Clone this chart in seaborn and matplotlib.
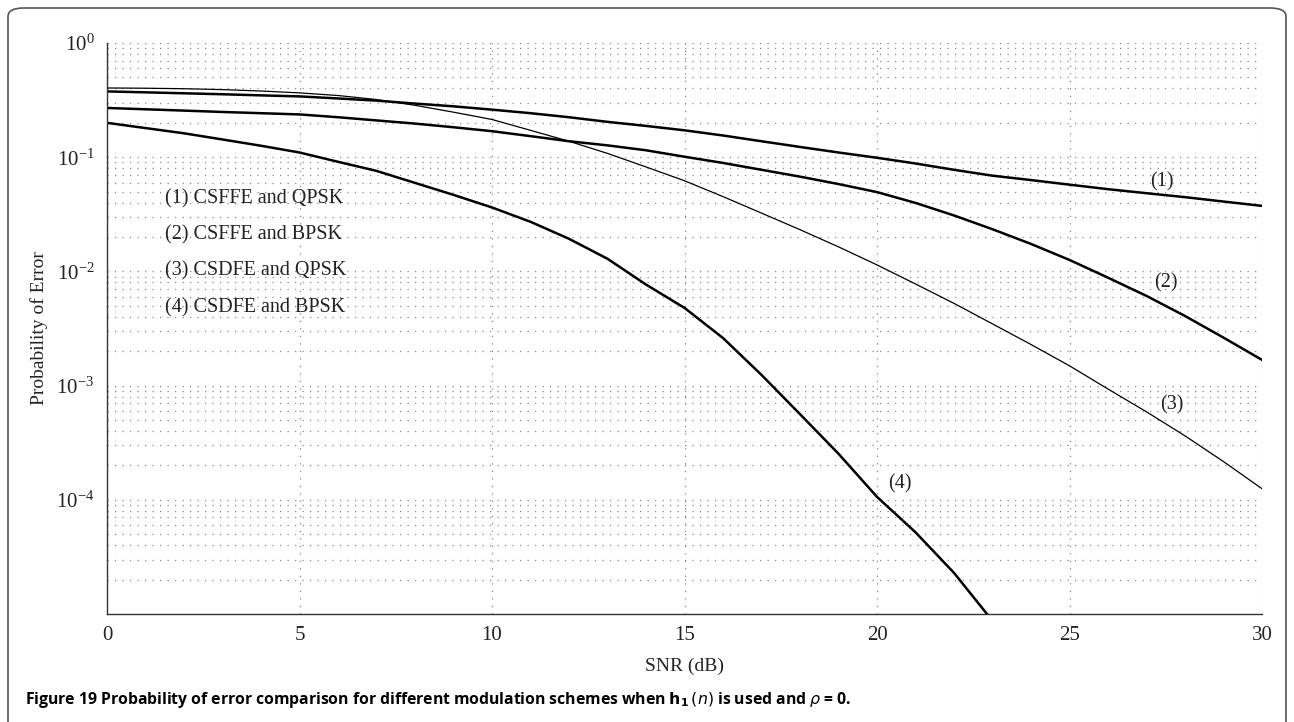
import numpy as np
import pandas as pd
import matplotlib
matplotlib.use("Agg")
import matplotlib.pyplot as plt
import seaborn as sns
from matplotlib.patches import FancyBboxPatch
from matplotlib.ticker import LogLocator, NullFormatter, FixedLocator

# datos (SNR en dB, probabilidad de error)
snr = list(range(0, 31))
pe_csffe_qpsk = [0.377, 0.370, 0.363, 0.356, 0.348, 0.341, 0.327, 0.313, 0.295, 0.279,
                 0.261, 0.243, 0.224, 0.204, 0.188, 0.172, 0.155, 0.138, 0.123, 0.110,
                 0.0989, 0.0881, 0.0776, 0.0689, 0.0631, 0.0575, 0.0525, 0.0484, 0.0447,
                 0.0409, 0.0375]
pe_csffe_bpsk = [0.270, 0.263, 0.256, 0.249, 0.243, 0.237, 0.224, 0.210, 0.197, 0.183,
                 0.169, 0.153, 0.138, 0.127, 0.115, 0.101, 0.0891, 0.0776, 0.0676, 0.0582,
                 0.0495, 0.0398, 0.0309, 0.0234, 0.0174, 0.0126, 0.00881, 0.00610, 0.00407,
                 0.00263, 0.00168]
pe_csdfe_qpsk = [0.404, 0.402, 0.398, 0.391, 0.380, 0.366, 0.347, 0.320, 0.285, 0.248,
                 0.214, 0.172, 0.138, 0.108, 0.0822, 0.0622, 0.0452, 0.0324, 0.0232, 0.0164,
                 0.0114, 0.00776, 0.00525, 0.00347, 0.00229, 0.00149, 0.000933, 0.000589,
                 0.000363, 0.000216, 0.000125]
snr_4 = list(range(0, 24))
pe_csdfe_bpsk = [0.200, 0.180, 0.162, 0.143, 0.126, 0.110, 0.0912, 0.0759, 0.0596, 0.0468,
                 0.0363, 0.0272, 0.0193, 0.0129, 0.00767, 0.00479, 0.00261, 0.00124,
                 0.000562, 0.000253, 0.000106, 5.19e-5, 2.29e-5, 8.7e-6]

leyenda = ["(1) CSFFE and QPSK", "(2) CSFFE and BPSK",
           "(3) CSDFE and QPSK", "(4) CSDFE and BPSK"]
etiquetas = ["(1)", "(2)", "(3)", "(4)"]

sns.set_theme(style="white")
plt.rcParams["font.family"] = ["Liberation Serif", "DejaVu Serif"]
plt.rcParams["mathtext.fontset"] = "stix"

fig = plt.figure(figsize=(12.94, 7.22), dpi=100)
ax = fig.add_axes([0.0827, 0.1496, 0.8926, 0.7908])

curvas = [(snr, pe_csffe_qpsk, 1.8), (snr, pe_csffe_bpsk, 1.8),
          (snr, pe_csdfe_qpsk, 0.9), (snr_4, pe_csdfe_bpsk, 1.8)]
for x, y, lw in curvas:
    df = pd.DataFrame({"snr": x, "pe": y})
    sns.lineplot(data=df, x="snr", y="pe", color="black", linewidth=lw, ax=ax)

ax.set_yscale("log")
ax.set_xlim(0, 30)
ax.set_ylim(1e-5, 1)
ax.set_xticks(range(0, 31, 5))
ax.yaxis.set_major_locator(FixedLocator([1e-4, 1e-3, 1e-2, 1e-1, 1]))
ax.yaxis.set_minor_locator(LogLocator(base=10, subs=np.arange(2, 10), numticks=20))
ax.yaxis.set_minor_formatter(NullFormatter())

# rejilla punteada
ax.grid(True, which="major", axis="x", color="#888888", linestyle=(0, (1, 5)), linewidth=0.9)
ax.grid(True, which="both", axis="y", color="#888888", linestyle=(0, (1, 5)), linewidth=0.9)

for s in ["top", "right"]:
    ax.spines[s].set_visible(False)
for s in ["left", "bottom"]:
    ax.spines[s].set_color("#333333")
    ax.spines[s].set_linewidth(1.0)
ax.tick_params(axis="both", which="major", direction="in", length=9, width=1,
               color="#333333", labelsize=15, labelcolor="#222222", pad=9)
ax.tick_params(axis="y", which="minor", direction="in", length=5, width=1, color="#333333")
ax.tick_params(axis="x", which="minor", length=0)

ax.set_xlabel("SNR (dB)", fontsize=14, color="#222222", labelpad=9)
ax.set_ylabel("Probability of Error", fontsize=14, color="#222222", labelpad=6)

# leyenda como texto
for txt, yv in zip(leyenda, [0.0431, 0.0210, 0.0102, 0.00477]):
    ax.text(1.5, yv, txt, fontsize=14.5, color="#222222", va="center", ha="left")

# etiquetas de las curvas
pos = [(27.1, 0.0606), (27.2, 0.00787), (27.35, 0.000684), (20.3, 0.000138)]
for txt, (xv, yv) in zip(etiquetas, pos):
    ax.text(xv, yv, txt, fontsize=14.5, color="#222222", va="center", ha="left")

# marco redondeado
marco = FancyBboxPatch((8 / 1294, -0.05), 1278 / 1294, 1.05 - 8 / 722,
                       boxstyle="round,pad=0,rounding_size=0.012",
                       transform=fig.transFigure, fill=False,
                       edgecolor="#555555", linewidth=1.2)
fig.patches.append(marco)

fig.text(25 / 1294, 1 - 700 / 722,
         r"Figure 19 Probability of error comparison for different modulation schemes when "
         r"$\mathbf{h_1}\,(n)$ is used and $\rho$ = 0.",
         fontsize=11.3, fontweight="bold", family="Open Sans",
         math_fontfamily="dejavusans", va="center", ha="left", color="black")

fig.savefig("out.png", dpi=100)
